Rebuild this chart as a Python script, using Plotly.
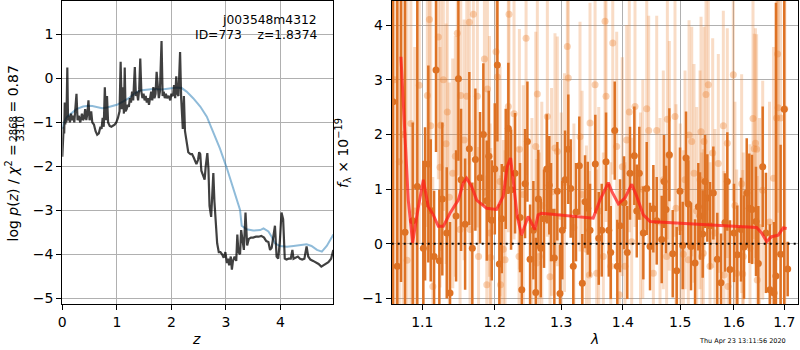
import plotly.graph_objects as go

# ---------------- left panel: redshift probability ----------------
z_grid = [0.000, 0.015, 0.025, 0.035, 0.045, 0.055, 0.065, 0.075, 0.092, 0.105,
          0.12, 0.14, 0.16, 0.18, 0.20, 0.22, 0.24, 0.26, 0.28, 0.30,
          0.33, 0.36, 0.38, 0.40, 0.42, 0.44, 0.46, 0.48, 0.50, 0.53,
          0.55, 0.58, 0.61, 0.64, 0.67, 0.70, 0.72, 0.74, 0.76, 0.78,
          0.80, 0.82, 0.84, 0.87, 0.90, 0.93, 0.96, 0.99, 1.02, 1.05,
          1.07, 1.09, 1.11, 1.13, 1.145, 1.16, 1.18, 1.20, 1.22, 1.24,
          1.26, 1.28, 1.30, 1.33, 1.35, 1.37, 1.39, 1.41, 1.43, 1.45,
          1.47, 1.49, 1.51, 1.53, 1.55, 1.57, 1.59, 1.61, 1.63, 1.65,
          1.67, 1.69, 1.71, 1.73, 1.75, 1.77, 1.79, 1.82, 1.84, 1.86,
          1.88, 1.90, 1.92, 1.95, 1.98, 2.00, 2.03, 2.05, 2.07, 2.09,
          2.11, 2.13, 2.16, 2.18, 2.21, 2.23, 2.25, 2.28, 2.31, 2.35,
          2.38, 2.41, 2.44, 2.46, 2.49, 2.51, 2.53, 2.55, 2.58, 2.61,
          2.63, 2.66, 2.68, 2.70, 2.73, 2.75, 2.77, 2.79, 2.81, 2.84,
          2.87, 2.90, 2.93, 2.96, 2.99, 3.02, 3.04, 3.06, 3.09, 3.11,
          3.13, 3.16, 3.19, 3.21, 3.23, 3.26, 3.28, 3.30, 3.33, 3.36,
          3.39, 3.42, 3.46, 3.50, 3.55, 3.60, 3.65, 3.70, 3.74, 3.78,
          3.81, 3.84, 3.88, 3.90, 3.93, 3.96, 3.99, 4.02, 4.05, 4.08,
          4.11, 4.15, 4.19, 4.22, 4.24, 4.28, 4.32, 4.36, 4.40, 4.44,
          4.48, 4.51, 4.55, 4.60, 4.65, 4.70, 4.75, 4.79, 4.84, 4.88,
          4.93, 4.97]
logpz = [-1.78, -1.35, -1.10, -1.25, -0.55, -1.05, -0.60, -1.00, 0.25, -0.95,
         -0.85, -1.00, -0.80, -0.95, -0.85, -1.00, -0.75, -0.35, -0.95, -0.85,
         -1.00, -0.80, -0.95, -0.90, -0.70, -0.95, -0.80, -0.50, -0.95, -0.75,
         -1.00, -1.05, -1.20, -1.28, -1.25, -1.10, -1.15, -0.90, -1.10, -0.20,
         -0.95, -0.40, -1.00, -1.08, -1.10, -1.08, -1.05, -1.00, -0.90, -0.75,
         0.38, -0.70, -0.20, -0.80, 0.25, -0.75, -0.70, -0.60, -0.65, -0.45,
         -0.55, -0.30, -0.50, 0.26, -0.40, -0.30, -0.50, -0.25, 0.45, -0.30,
         -0.45, -0.35, -0.50, -0.40, -0.55, -0.45, -0.60, -0.45, -0.30, -0.50,
         -0.20, -0.45, -0.35, 0.15, -0.30, -0.45, -0.30, 0.85, -0.40, -0.30,
         -0.45, -0.35, -0.45, -0.40, -0.50, -0.35, -0.40, -0.15, -0.45, 0.05,
         -0.35, -0.40, 0.60, -0.45, -1.15, -0.40, -1.20, -1.50, -1.68, -1.72,
         -1.72, -1.80, -1.90, -1.95, -1.85, -1.68, -1.72, -2.10, -2.20, -2.30,
         -2.00, -1.70, -2.05, -2.90, -3.15, -2.65, -2.15, -2.80, -3.20, -3.75,
         -3.95, -3.95, -4.00, -4.08, -3.95, -4.20, -4.10, -4.25, -4.05, -4.35,
         -4.15, -4.05, -4.15, -3.55, -3.95, -4.00, -3.45, -3.65, -3.90, -3.05,
         -3.80, -3.65, -3.62, -3.62, -3.60, -3.60, -3.58, -3.62, -3.70, -3.72,
         -3.90, -3.85, -3.45, -3.35, -4.05, -4.10, -3.70, -3.05, -3.20, -4.10,
         -4.12, -4.10, -4.10, -3.90, -4.10, -4.08, -4.05, -4.10, -4.12, -4.10,
         -3.82, -4.05, -4.12, -4.15, -4.18, -4.22, -4.28, -4.25, -4.22, -4.18,
         -4.10, -3.90]

z_prior = [0.00, 0.03, 0.08, 0.18, 0.26, 0.38, 0.48, 0.55, 0.63, 0.73,
           0.82, 0.91, 1.00, 1.12, 1.22, 1.30, 1.38, 1.46, 1.55, 1.67,
           1.83, 1.98, 2.10, 2.19, 2.28, 2.40, 2.53, 2.65, 2.77, 2.89,
           3.02, 3.14, 3.23, 3.26, 3.29, 3.38, 3.50, 3.63, 3.69, 3.78,
           3.84, 3.90, 3.99, 4.12, 4.24, 4.36, 4.48, 4.57, 4.67, 4.76,
           4.85, 4.94, 4.97]
logpz_prior = [-1.15, -1.00, -0.88, -0.79, -0.70, -0.64, -0.62, -0.63, -0.65, -0.68,
               -0.66, -0.63, -0.60, -0.52, -0.45, -0.37, -0.30, -0.27, -0.25, -0.24,
               -0.25, -0.23, -0.21, -0.22, -0.30, -0.45, -0.64, -0.87, -1.21, -1.59,
               -2.05, -2.50, -2.84, -2.99, -3.35, -3.43, -3.46, -3.45, -3.41, -3.48,
               -3.60, -3.75, -3.81, -3.83, -3.81, -3.79, -3.77, -3.81, -3.90, -3.94,
               -3.81, -3.62, -3.55]

z_ticks = [0, 1, 2, 3, 4]
pz_ticks = [-5, -4, -3, -2, -1, 0, 1]

# ---------------- right panel: spectrum ----------------
# spectrum A (solid)
wave_a = [1.0619, 1.0674, 1.0722, 1.0774, 1.0874, 1.0934, 1.1014, 1.1037, 1.1080, 1.1112,
          1.1157, 1.1183, 1.1228, 1.1268, 1.1328, 1.1373, 1.1456, 1.1488, 1.1525, 1.1581,
          1.1640, 1.1682, 1.1725, 1.1791, 1.1838, 1.1887, 1.1915, 1.1958, 1.2002, 1.2039,
          1.2068, 1.2103, 1.2161, 1.2199, 1.2239, 1.2298, 1.2372, 1.2398, 1.2447, 1.2482,
          1.2522, 1.2572, 1.2608, 1.2647, 1.2684, 1.2734, 1.2776, 1.2815, 1.2842, 1.2893,
          1.2939, 1.2981, 1.3017, 1.3060, 1.3111, 1.3149, 1.3190, 1.3233, 1.3286, 1.3334,
          1.3378, 1.3421, 1.3458, 1.3544, 1.3600, 1.3649, 1.3720, 1.3765, 1.3798, 1.3864,
          1.3907, 1.3952, 1.4020, 1.4075, 1.4121, 1.4195, 1.4236, 1.4280, 1.4349, 1.4408,
          1.4465, 1.4523, 1.4582, 1.4670, 1.4711, 1.4746, 1.4805, 1.4865, 1.4937, 1.4996,
          1.5045, 1.5105, 1.5147, 1.5196, 1.5270, 1.5330, 1.5361, 1.5411, 1.5454, 1.5497,
          1.5547, 1.5609, 1.5684, 1.5754, 1.5830, 1.5874, 1.5925, 1.6002, 1.6066, 1.6138,
          1.6196, 1.6249, 1.6299, 1.6352, 1.6431, 1.6477, 1.6564, 1.6629, 1.6709, 1.6790,
          1.6830, 1.6925, 1.6999, 1.7069]
flux_a = [2.60, -0.41, 4.80, 0.21, 0.42, 1.05, -0.08, 0.73, 1.46, 0.61,
          -0.23, 3.18, -0.31, 0.82, 0.20, -0.90, 0.51, 3.02, 1.17, 0.36,
          1.74, -0.08, 1.54, 1.21, 2.00, 0.79, 1.60, 0.43, 1.37, 3.27,
          -0.37, 0.46, 1.37, 2.11, 0.99, 1.29, 0.48, -0.84, 1.10, 1.87,
          -0.28, 0.25, -0.89, 0.82, -0.08, 0.46, 1.37, 1.07, 0.58, -0.26,
          0.96, -0.91, 0.25, 1.17, 1.73, 1.01, -0.41, 0.58, 1.43, -0.72,
          0.77, 0.65, 0.25, 1.46, 0.10, 0.25, 1.50, 0.25, -0.16, 2.07,
          -0.41, 0.33, 0.75, -0.16, 1.29, 1.61, 0.60, 1.29, 0.20, 1.01,
          -0.05, 0.64, 0.42, 0.08, 1.14, 0.63, 1.63, -0.18, -0.49, 0.96,
          -0.03, 1.57, 0.73, -0.05, -0.35, 0.68, 0.51, 0.18, 1.14, 0.84,
          0.33, 0.93, -0.28, -0.71, 0.39, 1.14, -0.47, 0.20, -0.20, 0.26,
          -0.06, 0.93, 0.65, 0.63, 0.41, -0.36, 1.41, 0.20, -0.84, -0.90,
          -0.59, -0.19, 2.46, -0.46]
err_a = [6.0, 5.5, 5.5, 5.5, 1.8, 3.5, 1.6, 1.4, 1.8, 1.3,
         1.2, 1.5, 1.3, 1.4, 1.2, 1.3, 1.2, 1.5, 1.3, 1.2,
         1.4, 1.2, 1.3, 1.2, 1.3, 1.1, 1.2, 1.1, 1.2, 1.4,
         1.1, 1.0, 1.1, 1.2, 1.1, 1.1, 1.0, 1.0, 1.0, 1.1,
         1.0, 0.9, 1.0, 0.9, 0.9, 0.9, 1.0, 0.9, 0.9, 0.9,
         0.9, 0.9, 0.9, 0.9, 1.0, 0.9, 0.9, 0.9, 0.9, 0.9,
         0.85, 0.85, 0.85, 0.9, 0.85, 0.85, 0.9, 0.85, 0.85, 0.9,
         0.85, 0.85, 0.85, 0.85, 0.85, 0.9, 0.85, 0.85, 0.85, 0.85,
         0.8, 0.8, 0.8, 0.8, 0.85, 0.8, 0.85, 0.8, 0.8, 0.8,
         0.8, 0.85, 0.8, 0.8, 0.8, 0.8, 0.8, 0.8, 0.85, 0.8,
         0.8, 0.85, 0.85, 0.9, 0.9, 0.9, 0.9, 0.9, 0.9, 0.95,
         0.95, 1.0, 1.0, 1.0, 1.0, 1.05, 1.1, 1.1, 1.2, 1.3,
         5.0, 2.0, 5.0, 0.5]

# spectrum B (faint)
wave_b = [1.0640, 1.0700, 1.0750, 1.0800, 1.0850, 1.0900, 1.0960, 1.1067, 1.1094, 1.1112,
          1.1140, 1.1214, 1.1237, 1.1246, 1.1282, 1.1319, 1.1336, 1.1363, 1.1410, 1.1446,
          1.1473, 1.1511, 1.1521, 1.1567, 1.1604, 1.1640, 1.1650, 1.1697, 1.1753, 1.1770,
          1.1853, 1.1887, 1.1896, 1.1925, 1.1934, 1.1944, 1.2020, 1.2039, 1.2078, 1.2085,
          1.2126, 1.2151, 1.2199, 1.2209, 1.2283, 1.2357, 1.2362, 1.2420, 1.2462, 1.2550,
          1.2608, 1.2623, 1.2632, 1.2662, 1.2700, 1.2785, 1.2826, 1.2850, 1.2903, 1.2939,
          1.3000, 1.3051, 1.3096, 1.3111, 1.3200, 1.3297, 1.3330, 1.3400, 1.3447, 1.3458,
          1.3540, 1.3567, 1.3600, 1.3675, 1.3703, 1.3720, 1.3798, 1.3831, 1.3897, 1.3941,
          1.3990, 1.4036, 1.4065, 1.4109, 1.4150, 1.4206, 1.4300, 1.4340, 1.4408, 1.4442,
          1.4523, 1.4582, 1.4640, 1.4698, 1.4757, 1.4770, 1.4805, 1.4924, 1.4906, 1.5000,
          1.5057, 1.5087, 1.5147, 1.5160, 1.5209, 1.5251, 1.5300, 1.5361, 1.5380, 1.5392,
          1.5422, 1.5435, 1.5472, 1.5515, 1.5547, 1.5597, 1.5640, 1.5703, 1.5798, 1.5811,
          1.5874, 1.5888, 1.5989, 1.6020, 1.6054, 1.6150, 1.6170, 1.6182, 1.6313, 1.6372,
          1.6397, 1.6420, 1.6444, 1.6456, 1.6500, 1.6564, 1.6700, 1.6780, 1.6844, 1.6864,
          1.6876, 1.6925, 1.7010]
flux_b = [3.00, 1.50, 2.00, -0.30, 2.20, 0.60, 2.90, 2.71, 4.10, 2.16,
          -0.78, 3.78, 1.40, 2.17, 3.00, 1.83, 2.41, 0.85, 1.29, 1.60,
          3.85, 0.26, 2.71, 1.90, 2.70, 4.05, 0.26, 4.20, 2.70, -0.23,
          3.38, -0.75, 2.83, 1.60, 0.20, -0.25, 3.51, 3.05, 1.14, -0.75,
          -0.10, -0.29, 2.51, 4.20, 2.38, -0.23, 1.73, 0.90, 3.76, 0.40,
          1.78, -0.35, 2.74, -0.23, 0.70, 2.33, -0.60, 0.95, 1.75, 1.69,
          0.50, 1.12, 3.61, 3.03, 0.30, 1.96, 0.90, -0.10, -0.57, 2.21,
          2.91, -0.54, 0.60, -0.23, 4.07, 2.70, -0.41, 3.67, 1.78, -0.93,
          1.41, -0.41, 1.90, 2.41, 0.04, 2.51, 0.50, 1.00, 2.47, 2.07,
          -0.54, 2.07, 0.40, 1.17, -0.23, 2.28, 1.61, 0.65, 2.33, 0.30,
          -0.19, 1.17, -0.29, 1.99, 1.87, 1.29, 0.60, 1.17, 2.05, -0.23,
          -0.17, 1.87, 2.73, 2.91, -0.41, 1.66, 0.20, 1.47, 2.16, -0.57,
          1.84, -0.78, 3.09, 0.70, -0.54, 1.10, -0.55, -0.23, -0.08, 2.29,
          1.74, 1.84, 1.73, -0.66, 0.30, 0.98, 0.40, 1.20, 2.30, 3.47,
          2.49, 2.30, 2.47]
err_b = [5.5, 5.5, 5.0, 5.0, 4.0, 3.0, 2.9, 2.4, 2.6, 2.3,
         2.0, 2.6, 2.2, 2.3, 2.4, 2.2, 2.3, 2.1, 2.1, 2.2,
         2.6, 2.0, 2.4, 2.2, 2.4, 2.6, 2.0, 2.6, 2.4, 2.0,
         2.5, 2.0, 2.4, 2.2, 2.0, 2.0, 2.5, 2.4, 2.1, 2.0,
         2.0, 2.0, 2.3, 2.6, 2.3, 2.0, 2.2, 2.0, 2.5, 1.9,
         2.1, 1.9, 2.3, 1.9, 1.9, 2.2, 1.9, 1.9, 2.1, 2.1,
         1.9, 2.0, 2.4, 2.3, 1.9, 2.1, 1.9, 1.9, 1.9, 2.2,
         2.3, 1.9, 1.9, 1.9, 2.5, 2.3, 1.9, 2.4, 2.1, 1.9,
         2.0, 1.9, 2.1, 2.2, 1.9, 2.2, 1.9, 2.0, 2.2, 2.1,
         1.9, 2.1, 1.9, 2.0, 1.9, 2.2, 2.1, 1.9, 2.2, 1.9,
         1.9, 2.0, 1.9, 2.1, 2.1, 2.0, 1.9, 2.0, 2.1, 1.9,
         1.9, 2.1, 2.2, 2.3, 1.9, 2.1, 1.9, 2.0, 2.1, 1.9,
         2.1, 1.9, 2.3, 1.9, 1.9, 2.0, 1.9, 1.9, 1.9, 2.2,
         2.1, 2.1, 2.1, 1.9, 2.0, 2.0, 2.2, 2.4, 2.6, 2.9,
         2.7, 3.9, 4.4]

# best-fit model
wave_model = [1.0721, 1.0773, 1.0816, 1.0873, 1.0926, 1.1013, 1.1080, 1.1146, 1.1214, 1.1281,
              1.1372, 1.1486, 1.1555, 1.1602, 1.1672, 1.1743, 1.1884, 1.2028, 1.2124, 1.2182,
              1.2232, 1.2281, 1.2330, 1.2395, 1.2444, 1.2493, 1.2544, 1.2594, 1.2644, 1.2695,
              1.3510, 1.3620, 1.3758, 1.3815, 1.3925, 1.4037, 1.4150, 1.4235, 1.4349, 1.4465,
              1.5486, 1.6443, 1.6542, 1.6642, 1.6742, 1.6877, 1.6979, 1.7048]
flux_model = [3.42, 1.90, 0.80, 0.02, 0.50, 1.17, 0.68, 0.53, 0.32, 0.32,
              0.56, 0.80, 1.11, 1.20, 1.05, 0.80, 0.65, 0.63, 0.87, 1.41,
              1.57, 1.05, 0.50, 0.16, 0.32, 0.50, 0.38, 0.26, 0.53, 0.56,
              0.47, 0.80, 1.12, 0.96, 0.73, 0.84, 1.09, 0.87, 0.53, 0.41,
              0.35, 0.30, 0.20, 0.04, 0.13, 0.16, 0.29, 0.28]

wave_ticks = [1.1, 1.2, 1.3, 1.4, 1.5, 1.6, 1.7]
flux_ticks = [-1, 0, 1, 2, 3, 4]

FONT = "DejaVu Sans"
W, H = 800, 350

fig = go.Figure()

fig.add_trace(go.Scatter(x=z_prior, y=logpz_prior, mode="lines",
                         line=dict(color="rgba(31,119,180,0.5)", width=2),
                         xaxis="x", yaxis="y", hoverinfo="skip"))
fig.add_trace(go.Scatter(x=z_grid, y=logpz, mode="lines",
                         line=dict(color="rgba(0,0,0,0.75)", width=2.2),
                         xaxis="x", yaxis="y", hoverinfo="skip"))

fig.add_trace(go.Scatter(x=wave_b, y=flux_b, mode="markers",
                         marker=dict(size=7, color="rgba(235,130,50,0.36)", line=dict(width=0)),
                         error_y=dict(type="data", array=err_b, thickness=3, width=0,
                                      color="rgba(235,130,50,0.28)"),
                         xaxis="x2", yaxis="y2", hoverinfo="skip"))
fig.add_trace(go.Scatter(x=wave_a, y=flux_a, mode="markers",
                         marker=dict(size=7, color="#de7224", line=dict(width=0)),
                         error_y=dict(type="data", array=err_a, thickness=2.5, width=0,
                                      color="#de7224"),
                         xaxis="x2", yaxis="y2", hoverinfo="skip"))
fig.add_trace(go.Scatter(x=wave_model, y=flux_model, mode="lines",
                         line=dict(color="rgba(255,25,25,0.72)", width=3),
                         xaxis="x2", yaxis="y2", hoverinfo="skip"))

axis_common = dict(showline=True, mirror=True, linecolor="black", linewidth=1,
                   ticks="outside", ticklen=5, tickwidth=1, tickcolor="black",
                   showgrid=True, gridcolor="#b0b0b0", gridwidth=1, zeroline=False,
                   tickfont=dict(family=FONT, size=14, color="black"), automargin=False)

y_dom = [1 - 304 / H, 1 - 1 / H]

fig.update_layout(
    width=W, height=H, margin=dict(l=0, r=0, t=0, b=0), autosize=False,
    paper_bgcolor="white", plot_bgcolor="white", showlegend=False,
    font=dict(family=FONT, size=14, color="black"),
    xaxis=dict(domain=[62.3 / W, 333.3 / W], range=[0, 4.97], tickmode="array",
               tickvals=z_ticks, anchor="y", **axis_common),
    yaxis=dict(domain=y_dom, range=[-5.13, 1.76], tickmode="array",
               tickvals=pz_ticks, anchor="x", **axis_common),
    xaxis2=dict(domain=[391.7 / W, 798 / W], type="log", range=[0.02541, 0.2376],
                tickmode="array", tickvals=wave_ticks,
                ticktext=[f"{v:.1f}" for v in wave_ticks], anchor="y2", **axis_common),
    yaxis2=dict(domain=y_dom, range=[-1.1, 4.44], tickmode="array",
                tickvals=flux_ticks, anchor="x2", **axis_common),
)

# zero level in the spectrum panel
fig.add_shape(type="line", xref="x2 domain", x0=0, x1=1, yref="y2", y0=0, y1=0,
              line=dict(color="black", width=2, dash="2px,4px"), layer="above")


def px(x):
    return x / W


def py(y):
    return 1 - y / H


def label(text, x, y, size=14, angle=0, xanchor="center", yanchor="middle"):
    fig.add_annotation(text=text, x=px(x), y=py(y), xref="paper", yref="paper",
                       showarrow=False, textangle=angle, xanchor=xanchor, yanchor=yanchor,
                       font=dict(family=FONT, size=size, color="black"))


# axis labels
label("<i>z</i>", 196, 339)
label("<i>λ</i>", 594, 339)
label("<i>f</i><sub>λ</sub> × 10<sup>−19</sup>", 343, 153, angle=-90)

# stacked y label of the p(z) panel
label("log <i>p</i>(<i>z</i>) / <i>χ</i><sup>2</sup> =", 12.5, 193, angle=-90)
label("2868", 12.5, 129, size=10, angle=-90)
label("3310", 19.5, 129, size=10, angle=-90)
fig.add_shape(type="line", xref="paper", yref="paper", x0=px(16), x1=px(16),
              y0=py(116), y1=py(142), line=dict(color="black", width=0.8))
label("= 0.87", 12.5, 89, angle=-90)

# object id / redshift
label("j003548m4312", 318.5, 20, size=12.3, xanchor="right")
label("ID=773\u00a0\u00a0\u00a0\u00a0z=1.8374", 318.5, 35, size=12.3, xanchor="right")

# time stamp
label("Thu Apr 23 13:11:56 2020", 742, 341, size=6.5)

fig.write_html("out.html")
